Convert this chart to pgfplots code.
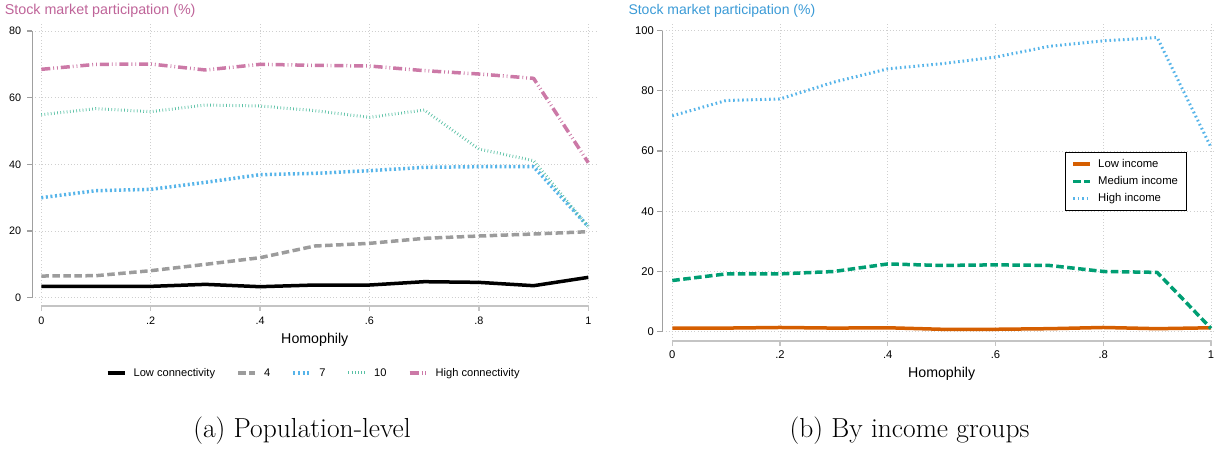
\documentclass[border=0pt]{standalone}
\usepackage{pgfplots}
\pgfplotsset{compat=1.18}
\usepackage{fontspec}
\newfontfamily\arial{Liberation Sans}
\definecolor{cpink}{HTML}{CC79A7}
\definecolor{cblue}{HTML}{56B4E9}
\definecolor{cgreen}{HTML}{009E73}
\definecolor{corange}{HTML}{D55E00}
\definecolor{cgray}{HTML}{9C9C9C}
\definecolor{tpink}{HTML}{BF6499}
\definecolor{tblue}{HTML}{3A9AD6}
\definecolor{gridc}{HTML}{CFCFCF}
\definecolor{yaxc}{HTML}{A0A0A0}
\definecolor{xaxc}{HTML}{C4C4C4}

\pgfplotstableread{
x low c4 c7 c10 high
0.0 3.4 6.5 30.0 54.9 68.5
0.1 3.4 6.6 32.1 56.7 70.0
0.2 3.4 8.1 32.5 55.8 70.1
0.3 4.0 10.0 34.6 57.8 68.3
0.4 3.3 12.0 36.9 57.5 70.0
0.5 3.8 15.5 37.3 56.1 69.7
0.6 3.8 16.3 38.1 54.1 69.5
0.7 4.8 17.8 39.1 56.3 68.1
0.8 4.6 18.5 39.3 44.6 67.1
0.9 3.6 19.1 39.3 41.1 65.8
1.0 6.1 19.8 21.3 21.3 40.5
}\popdata

\pgfplotstableread{
x low med high
0.0 1.2 17.0 71.7
0.1 1.2 19.2 76.8
0.2 1.4 19.2 77.3
0.3 1.2 20.0 82.9
0.4 1.3 22.5 87.3
0.5 0.8 22.0 89.0
0.6 0.8 22.2 91.2
0.7 1.0 22.0 94.8
0.8 1.4 20.0 96.6
0.9 1.0 19.7 97.7
1.0 1.3 1.1 61.2
}\incdata

\pgfplotsset{
  stata/.style={
    scale only axis, clip=false,
    axis line style={draw=none}, major tick length=0pt,
    xtick={0,0.2,0.4,0.6,0.8,1}, xticklabels={0,.2,.4,.6,.8,1},
    grid=major,
    major grid style={draw=gridc, line width=0.8pt, dash pattern=on 0.8pt off 2.4pt},
    legend image code/.code={\draw[##1] (0pt,0pt) -- (17pt,0pt);},
    legend cell align=left,
  },
  thickline/.style={line width=3.5pt, line join=round},
}

\begin{document}
\begin{tikzpicture}[x=1pt,y=1pt]
\useasboundingbox (0,0) rectangle (1225,449);

% ---------------- left panel ----------------
\begin{axis}[stata,
  at={(32.3pt,143pt)}, anchor=south west, width=564.4pt, height=283pt,
  xmin=-0.01645, xmax=1.0154, ymin=-2.49, ymax=82.4,
  ytick={0,20,40,60,80}, yticklabels={0,20,40,60,80},
  ticklabel style={font=\arial\fontsize{10.8}{12}\selectfont, inner sep=0pt},
  xticklabel style={anchor=north, yshift=-11pt},
  yticklabel style={anchor=east, xshift=-11pt},
  legend columns=5,
  legend style={at={(0.4986,-0.2367)}, anchor=center, draw=none, fill=none,
    inner sep=0pt, font=\arial\fontsize{11.1}{13}\selectfont,
    /tikz/every odd column/.style={column sep=5.3pt},
    /tikz/every even column/.style={column sep=19.3pt}},
]
\draw[yaxc, line width=1.2pt] (axis cs:-0.01645,0) -- (axis cs:-0.01645,80);
\pgfplotsinvokeforeach{0,20,40,60,80}{\draw[yaxc, line width=1.2pt] (axis cs:-0.01645,#1) -- ++(-5pt,0pt);}
\draw[xaxc, line width=2.2pt] (axis cs:0,-2.49) -- (axis cs:1,-2.49);
\pgfplotsinvokeforeach{0,0.2,0.4,0.6,0.8,1}{\draw[xaxc, line width=1.4pt] (axis cs:#1,-2.49) -- ++(0pt,-5pt);}

\addplot[black, thickline] table[x=x, y=low] {\popdata};
\addlegendentry{Low connectivity}
\addplot[cgray, thickline, dash pattern=on 7.5pt off 3.5pt] table[x=x, y=c4] {\popdata};
\addlegendentry{4}
\addplot[cblue, thickline, dash pattern=on 2pt off 2.6pt] table[x=x, y=c7] {\popdata};
\addlegendentry{7}
\addplot[cgreen!65!white, line width=3pt, dash pattern=on 0.7pt off 2.5pt] table[x=x, y=c10] {\popdata};
\addlegendentry{10}
\addplot[cpink, thickline, dash pattern=on 9pt off 3pt on 0.8pt off 3pt on 0.8pt off 3pt] table[x=x, y=high] {\popdata};
\addlegendentry{High connectivity}

\node[font=\arial\fontsize{14.2}{16}\selectfont, inner sep=0pt] at (axis cs:0.5,-2.49) [yshift=-34pt] {Homophily};
\end{axis}

% ---------------- right panel ----------------
\begin{axis}[stata,
  at={(662.3pt,108pt)}, anchor=south west, width=552.7pt, height=317pt,
  xmin=-0.01856, xmax=1.0074, ymin=-3.09, ymax=102.2,
  ytick={0,20,40,60,80,100}, yticklabels={0,20,40,60,80,100},
  ticklabel style={font=\arial\fontsize{11.2}{13}\selectfont, inner sep=0pt},
  xticklabel style={anchor=north, yshift=-9.5pt},
  yticklabel style={anchor=east, xshift=-8.3pt},
  legend style={at={(0.7286,0.5962)}, anchor=north west, draw=black, line width=0.8pt,
    fill=white, inner xsep=6pt, inner ysep=5pt,
    font=\arial\fontsize{11.3}{13}\selectfont, row sep=3.5pt,
    /tikz/every odd column/.style={column sep=4.3pt}},
]
\draw[yaxc, line width=1.2pt] (axis cs:-0.01856,0) -- (axis cs:-0.01856,100);
\pgfplotsinvokeforeach{0,20,40,60,80,100}{\draw[yaxc, line width=1.2pt] (axis cs:-0.01856,#1) -- ++(-5pt,0pt);}
\draw[xaxc, line width=2.2pt] (axis cs:0,-3.09) -- (axis cs:1,-3.09);
\pgfplotsinvokeforeach{0,0.2,0.4,0.6,0.8,1}{\draw[xaxc, line width=1.4pt] (axis cs:#1,-3.09) -- ++(0pt,-5pt);}

\addplot[corange, thickline] table[x=x, y=low] {\incdata};
\addlegendentry{Low income}
\addplot[cgreen, thickline, dash pattern=on 7.5pt off 3.5pt] table[x=x, y=med] {\incdata};
\addlegendentry{Medium income}
\addplot[cblue, line width=3pt, dash pattern=on 1.6pt off 2.9pt] table[x=x, y=high] {\incdata};
\addlegendentry{High income}

\node[font=\arial\fontsize{14.2}{16}\selectfont, inner sep=0pt] at (axis cs:0.5,-3.09) [yshift=-32.5pt] {Homophily};
\end{axis}

% titles
\node[anchor=west, inner sep=0pt, text=tpink, font=\arial\fontsize{14.3}{16}\selectfont] at (4.6,438) {Stock market participation (\%)};
\node[anchor=west, inner sep=0pt, text=tblue, font=\arial\fontsize{14}{16}\selectfont] at (628.3,438) {Stock market participation (\%)};

% captions
\node[inner sep=0pt, font=\fontsize{27.5}{32}\selectfont] at (302,18) {(a) Population-level};
\node[inner sep=0pt, font=\fontsize{27.5}{32}\selectfont] at (909.5,18) {(b) By income groups};
\end{tikzpicture}
\end{document}
